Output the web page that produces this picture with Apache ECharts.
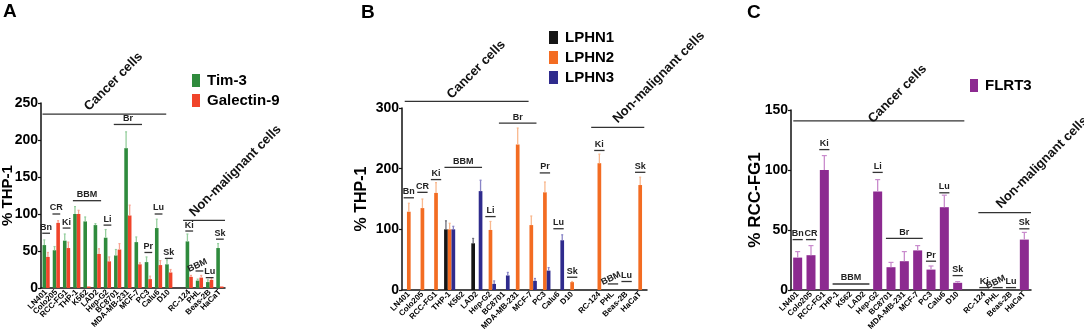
<!DOCTYPE html>
<html>
<head>
<meta charset="utf-8">
<script src="https://cdn.jsdelivr.net/npm/echarts@6/dist/echarts.min.js"></script>
<style>
  html, body { margin: 0; padding: 0; background: #fff; }
  #chart { width: 1084px; height: 330px; }
</style>
</head>
<body>
<div id="chart"></div>
<script>
// cell lines, cancer first then non-malignant, one empty slot between them
const cancerCells = ["LN401", "Colo205", "RCC-FG1", "THP-1", "K562", "LAD2", "Hep-G2", "BC8701", "MDA-MB-231", "MCF-7", "PC3", "Calu6", "D10"];
const normalCells = ["RC-124", "PHL", "Beas-2B", "HaCaT"];

// A: % THP-1
const tim3 = [58, 51, 64, 100, 90, 85, 68, 44, 189, 62, 35, 81, 32, 63, 10, 8, 54];
const tim3Err = [7, 5, 9, 10, 6, 2, 11, 8, 22, 7, 7, 12, 6, 10, 2, 3, 6];
const galectin9 = [42, 88, 54, 100, 2, 46, 36, 52, 98, 32, 12, 31, 21, 15, 14, 11, 2];
const galectin9Err = [6, 3, 8, 5, 0, 7, 6, 8, 14, 2, 4, 6, 4, 2, 3, 3, 0];

// B: % THP-1
const lphn1 = [0, 0, 0, 100, 0, 77, 0, 0, 0, 0, 0, 0, 0, 0, 0, 0, 0];
const lphn1Err = [0, 0, 0, 14, 0, 8, 0, 0, 0, 0, 0, 0, 0, 0, 0, 0, 0];
const lphn2 = [129, 135, 160, 100, 0, 0, 99, 0, 240, 107, 161, 0, 13, 209, 0, 0, 173];
const lphn2Err = [14, 15, 17, 10, 0, 0, 14, 0, 27, 15, 17, 0, 1, 15, 0, 0, 13];
const lphn3 = [0, 0, 0, 100, 0, 163, 10, 24, 0, 15, 32, 82, 0, 0, 0, 0, 0];
const lphn3Err = [0, 0, 0, 5, 0, 18, 5, 5, 0, 4, 5, 9, 0, 0, 0, 0, 0];

// C: % RCC-FG1
const flrt3 = [27, 29, 100, 0, 0, 0, 82, 19, 24, 33, 17, 69, 6, 0, 0, 0, 42];
const flrt3Err = [5, 8, 12, 0, 0, 0, 10, 4, 8, 4, 3, 10, 1, 0, 0, 0, 6];

const ticksA = [0, 250, 50];
const ticksB = [0, 300, 100];
const ticksC = [0, 150, 50];

// tissue labels: [text, first cell, last cell, y value, tilted]
const tissuesA = [
  ["Bn", "LN401", "LN401", 74], ["CR", "Colo205", "Colo205", 100], ["Ki", "RCC-FG1", "RCC-FG1", 81],
  ["BBM", "THP-1", "LAD2", 118], ["Li", "Hep-G2", "Hep-G2", 85], ["Br", "BC8701", "MCF-7", 221],
  ["Pr", "PC3", "PC3", 48], ["Lu", "Calu6", "Calu6", 100], ["Sk", "D10", "D10", 40],
  ["Ki", "RC-124", "RC-124", 77], ["BBM", "PHL", "PHL", 23, true], ["Lu", "Beas-2B", "Beas-2B", 14], ["Sk", "HaCaT", "HaCaT", 66]
];
const tissuesB = [
  ["Bn", "LN401", "LN401", 152], ["CR", "Colo205", "Colo205", 161], ["Ki", "RCC-FG1", "RCC-FG1", 182],
  ["BBM", "THP-1", "LAD2", 202], ["Li", "Hep-G2", "Hep-G2", 121], ["Br", "BC8701", "MCF-7", 275],
  ["Pr", "PC3", "PC3", 193], ["Lu", "Calu6", "Calu6", 101], ["Sk", "D10", "D10", 21],
  ["Ki", "RC-124", "RC-124", 230], ["BBM", "PHL", "PHL", 10, true], ["Lu", "Beas-2B", "Beas-2B", 14], ["Sk", "HaCaT", "HaCaT", 194]
];
const tissuesC = [
  ["Bn", "LN401", "LN401", 42], ["CR", "Colo205", "Colo205", 42], ["Ki", "RCC-FG1", "RCC-FG1", 117],
  ["BBM", "THP-1", "LAD2", 5], ["Li", "Hep-G2", "Hep-G2", 98], ["Br", "BC8701", "MCF-7", 43],
  ["Pr", "PC3", "PC3", 24], ["Lu", "Calu6", "Calu6", 81], ["Sk", "D10", "D10", 12],
  ["Ki", "RC-124", "RC-124", 2], ["BBM", "PHL", "PHL", 2, true], ["Lu", "Beas-2B", "Beas-2B", 2], ["Sk", "HaCaT", "HaCaT", 51]
];

// cell groups: [text, from slot, to slot, line y, text slot, text y]
const groupsA = [["Cancer cells", -0.35, 11.75, 235, 4.4, 236], ["Non-malignant cells", 13.4, 17.5, 91.5, 14.7, 93]];
const groupsB = [["Cancer cells", -0.3, 8.8, 311, 3.3, 311], ["Non-malignant cells", 13.4, 17.3, 268, 15.5, 271]];
const groupsC = [["Cancer cells", -0.33, 12.5, 141, 5.8, 137], ["Non-malignant cells", 13.55, 17.5, 64.4, 15.4, 66]];

const cells = [...cancerCells, "", ...normalCells];
const gap = cancerCells.length;
const withGap = (arr) => [...arr.slice(0, gap), null, ...arr.slice(gap)];

const FONT = '"Liberation Sans", Arial, sans-serif';

function errSeries(axis, vals, errs, offset, color, cap) {
  const full = withGap(vals), fe = withGap(errs);
  const data = [];
  full.forEach((v, i) => { if (v != null && fe[i]) data.push([i, v, fe[i]]); });
  return {
    type: "custom", xAxisIndex: axis, yAxisIndex: axis, silent: true, z: 3,
    data,
    renderItem(params, api) {
      const i = api.value(0), v = api.value(1), e = api.value(2);
      const p0 = api.coord([i, v]), p1 = api.coord([i, v + e]);
      const x = p0[0] + offset;
      const kids = [{ type: "line", shape: { x1: x, y1: p0[1], x2: x, y2: p1[1] }, style: { stroke: color, lineWidth: 1.3 } }];
      if (cap) kids.push({ type: "line", shape: { x1: x - cap / 2, y1: p1[1], x2: x + cap / 2, y2: p1[1] }, style: { stroke: color, lineWidth: 1.2 } });
      return { type: "group", children: kids };
    }
  };
}

function tissueSeries(axis, list) {
  return {
    type: "custom", xAxisIndex: axis, yAxisIndex: axis, silent: true, z: 4,
    data: list.map(a => [cells.indexOf(a[1]), a[3]]),
    renderItem(params, api) {
      const a = list[params.dataIndex];
      const bw = api.size([1, 0])[0];
      const p0 = api.coord([cells.indexOf(a[1]), a[3]]);
      const p1 = api.coord([cells.indexOf(a[2]), a[3]]);
      const xl = p0[0] - 0.38 * bw, xr = p1[0] + 0.38 * bw, y = p0[1];
      return {
        type: "group", children: [
          { type: "line", shape: { x1: xl, y1: y, x2: xr, y2: y }, style: { stroke: "#333", lineWidth: 1.3 } },
          {
            type: "text", x: (xl + xr) / 2, y: y - 1.5, rotation: a[4] ? Math.PI / 7 : 0,
            style: { text: a[0], fill: "#222", font: "bold 9px " + FONT, align: "center", verticalAlign: "bottom", textAlign: "center", textVerticalAlign: "bottom" }
          }
        ]
      };
    }
  };
}

function groupSeries(axis, list) {
  return {
    type: "custom", xAxisIndex: axis, yAxisIndex: axis, silent: true, z: 4,
    data: list.map(g => [0, g[3]]),
    renderItem(params, api) {
      const g = list[params.dataIndex];
      const bw = api.size([1, 0])[0];
      const base = api.coord([0, g[3]]);
      const tb = api.coord([0, g[5]]);
      return {
        type: "group", children: [
          { type: "line", shape: { x1: base[0] + g[1] * bw, y1: base[1], x2: base[0] + g[2] * bw, y2: base[1] }, style: { stroke: "#333", lineWidth: 1.3 } },
          {
            type: "text", x: tb[0] + g[4] * bw, y: tb[1], rotation: Math.PI / 4,
            style: { text: g[0], fill: "#111", font: "bold 13px " + FONT, align: "left", verticalAlign: "bottom", textAlign: "left", textVerticalAlign: "bottom" }
          }
        ]
      };
    }
  };
}

function xAxis(i) {
  return {
    type: "category", gridIndex: i, data: cells,
    axisLine: { lineStyle: { color: "#111", width: 1.5 } },
    axisTick: { show: false },
    axisLabel: { rotate: 45, interval: 0, fontSize: 8, fontWeight: "bold", color: "#000", margin: 3, fontFamily: FONT }
  };
}
function yAxis(i, t, name, gapPx, nameSize) {
  return {
    type: "value", gridIndex: i, min: t[0], max: t[1], interval: t[2],
    name, nameLocation: "middle", nameGap: gapPx, nameMoveOverlap: false,
    nameTextStyle: { fontSize: nameSize, fontWeight: "bold", color: "#000", fontFamily: FONT },
    axisLine: { show: true, lineStyle: { color: "#111", width: 1.5 } },
    axisTick: { show: true, length: 3, lineStyle: { color: "#111", width: 1.2 } },
    axisLabel: { fontSize: 14, fontWeight: "bold", color: "#000", margin: 3, fontFamily: FONT },
    splitLine: { show: false }
  };
}

const green = "#2f8b3d", red = "#f0442a", black = "#151515", orange = "#f36c22", blue = "#2f2b8d", purple = "#8c2a90";

const chart = echarts.init(document.getElementById("chart"));
chart.setOption({
  animation: false,
  textStyle: { fontFamily: FONT },
  title: [
    { text: "A", left: 3, top: 2, padding: 0, textStyle: { fontSize: 19, fontWeight: "bold", color: "#000" } },
    { text: "B", left: 361, top: 3, padding: 0, textStyle: { fontSize: 19, fontWeight: "bold", color: "#000" } },
    { text: "C", left: 747, top: 3, padding: 0, textStyle: { fontSize: 19, fontWeight: "bold", color: "#000" } }
  ],
  legend: [
    { data: ["Tim-3", "Galectin-9"], left: 192, top: 73, orient: "vertical", padding: 0, itemWidth: 8, itemHeight: 13, itemGap: 5, icon: "rect", textStyle: { fontSize: 15, fontWeight: "bold", color: "#000", padding: [0, 0, 0, 2] } },
    { data: ["LPHN1", "LPHN2", "LPHN3"], left: 549, top: 30, orient: "vertical", padding: 0, itemWidth: 9, itemHeight: 13, itemGap: 5, icon: "rect", textStyle: { fontSize: 15, fontWeight: "bold", color: "#000", padding: [0, 0, 0, 2] } },
    { data: ["FLRT3"], left: 970, top: 78, orient: "vertical", padding: 0, itemWidth: 8, itemHeight: 13, icon: "rect", textStyle: { fontSize: 15, fontWeight: "bold", color: "#000", padding: [0, 0, 0, 2] } }
  ],
  grid: [
    { left: 41, top: 103, width: 184, height: 185, outerBoundsMode: "none", containLabel: false },
    { left: 402, top: 108, width: 245, height: 182, outerBoundsMode: "none", containLabel: false },
    { left: 791, top: 110, width: 240, height: 180, outerBoundsMode: "none", containLabel: false }
  ],
  xAxis: [xAxis(0), xAxis(1), xAxis(2)],
  yAxis: [yAxis(0, ticksA, "% THP-1", 26, 15), yAxis(1, ticksB, "% THP-1", 32, 16), yAxis(2, ticksC, "% RCC-FG1", 27, 17)],
  series: [
    { name: "Tim-3", type: "bar", xAxisIndex: 0, yAxisIndex: 0, data: withGap(tim3), barWidth: 3.6, barGap: "0%", itemStyle: { color: green } },
    { name: "Galectin-9", type: "bar", xAxisIndex: 0, yAxisIndex: 0, data: withGap(galectin9), barWidth: 3.6, barGap: "0%", itemStyle: { color: red } },
    errSeries(0, tim3, tim3Err, -1.8, "#96cf9e", 2),
    errSeries(0, galectin9, galectin9Err, 1.8, "#f8a494", 2),
    tissueSeries(0, tissuesA), groupSeries(0, groupsA),

    { name: "LPHN1", type: "bar", xAxisIndex: 1, yAxisIndex: 1, data: withGap(lphn1), barWidth: 3.7, barGap: "0%", itemStyle: { color: black } },
    { name: "LPHN2", type: "bar", xAxisIndex: 1, yAxisIndex: 1, data: withGap(lphn2), barWidth: 3.7, barGap: "0%", itemStyle: { color: orange } },
    { name: "LPHN3", type: "bar", xAxisIndex: 1, yAxisIndex: 1, data: withGap(lphn3), barWidth: 3.7, barGap: "0%", itemStyle: { color: blue } },
    errSeries(1, lphn1, lphn1Err, -3.7, "#6e6e7a", 2),
    errSeries(1, lphn2, lphn2Err, 0, "#f9b88e", 2),
    errSeries(1, lphn3, lphn3Err, 3.7, "#8884c6", 2),
    tissueSeries(1, tissuesB), groupSeries(1, groupsB),

    { name: "FLRT3", type: "bar", xAxisIndex: 2, yAxisIndex: 2, data: withGap(flrt3), barWidth: 9, itemStyle: { color: purple } },
    errSeries(2, flrt3, flrt3Err, 0, "#c98bcd", 5),
    tissueSeries(2, tissuesC), groupSeries(2, groupsC)
  ]
});
</script>
</body>
</html>
